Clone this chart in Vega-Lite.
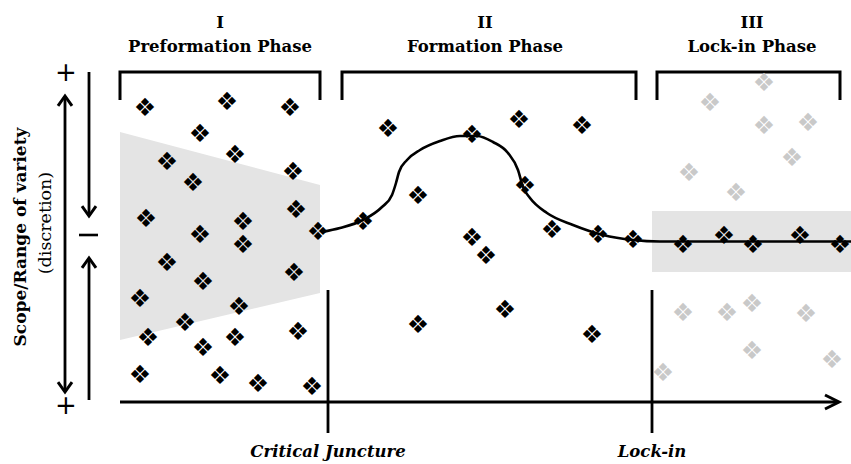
{
  "$schema": "https://vega.github.io/schema/vega-lite/v6.json",
  "width": 851,
  "height": 464,
  "padding": 0,
  "autosize": {"type": "none"},
  "config": {"view": {"stroke": null}},
  "datasets": {
    "shade1": [{"x": 120, "y": 132, "y2": 340}, {"x": 320, "y": 185, "y2": 293}],
    "shade3": [{"x": 652, "x2": 851, "y": 211, "y2": 272}],
    "brackets": [
      {"g": "I", "o": 1, "x": 120, "y": 100}, {"g": "I", "o": 2, "x": 120, "y": 72}, {"g": "I", "o": 3, "x": 320, "y": 72}, {"g": "I", "o": 4, "x": 320, "y": 100},
      {"g": "II", "o": 1, "x": 342, "y": 100}, {"g": "II", "o": 2, "x": 342, "y": 72}, {"g": "II", "o": 3, "x": 636, "y": 72}, {"g": "II", "o": 4, "x": 636, "y": 100},
      {"g": "III", "o": 1, "x": 657, "y": 100}, {"g": "III", "o": 2, "x": 657, "y": 72}, {"g": "III", "o": 3, "x": 840, "y": 72}, {"g": "III", "o": 4, "x": 840, "y": 100}
    ],
    "curve": [
      {"x": 322, "y": 232}, {"x": 340, "y": 228}, {"x": 363, "y": 220}, {"x": 382, "y": 207}, {"x": 392, "y": 195},
      {"x": 396, "y": 183}, {"x": 399, "y": 172}, {"x": 407, "y": 160}, {"x": 420, "y": 150}, {"x": 440, "y": 141},
      {"x": 460, "y": 136}, {"x": 477, "y": 136}, {"x": 493, "y": 142}, {"x": 508, "y": 153}, {"x": 518, "y": 170},
      {"x": 523, "y": 187}, {"x": 530, "y": 198}, {"x": 547, "y": 213}, {"x": 573, "y": 225}, {"x": 603, "y": 235},
      {"x": 633, "y": 240}, {"x": 660, "y": 241.5}, {"x": 851, "y": 241.5}
    ],
    "rules": [
      {"x": 120, "y": 402, "x2": 838, "y2": 402, "w": "thick"},
      {"x": 328, "y": 290, "x2": 328, "y2": 433, "w": "mid"},
      {"x": 652, "y": 290, "x2": 652, "y2": 433, "w": "mid"},
      {"x": 65, "y": 96, "x2": 65, "y2": 392, "w": "mid"},
      {"x": 89, "y": 72, "x2": 89, "y2": 216, "w": "mid"},
      {"x": 89, "y": 258, "x2": 89, "y2": 400, "w": "mid"},
      {"x": 79, "y": 235, "x2": 98, "y2": 235, "w": "thin"}
    ],
    "arrowsRight": [{"x": 839, "y": 402}],
    "arrowsUp": [{"x": 65, "y": 96}, {"x": 89, "y": 258}],
    "arrowsDown": [{"x": 65, "y": 392}, {"x": 89, "y": 216}],
    "active": [
      {"x": 145, "y": 108}, {"x": 227, "y": 102}, {"x": 290, "y": 108}, {"x": 200, "y": 134}, {"x": 235, "y": 155},
      {"x": 167, "y": 162}, {"x": 293, "y": 172}, {"x": 193, "y": 183}, {"x": 146, "y": 219}, {"x": 200, "y": 235},
      {"x": 243, "y": 222}, {"x": 243, "y": 245}, {"x": 296, "y": 210}, {"x": 318, "y": 232}, {"x": 167, "y": 263},
      {"x": 203, "y": 282}, {"x": 294, "y": 273}, {"x": 140, "y": 299}, {"x": 239, "y": 307}, {"x": 185, "y": 323},
      {"x": 148, "y": 338}, {"x": 235, "y": 338}, {"x": 298, "y": 332}, {"x": 203, "y": 348}, {"x": 140, "y": 375},
      {"x": 220, "y": 376}, {"x": 258, "y": 384}, {"x": 312, "y": 387},
      {"x": 388, "y": 129}, {"x": 472, "y": 135}, {"x": 519, "y": 120}, {"x": 582, "y": 126}, {"x": 418, "y": 196},
      {"x": 525, "y": 186}, {"x": 363, "y": 222}, {"x": 472, "y": 238}, {"x": 486, "y": 256}, {"x": 552, "y": 230},
      {"x": 598, "y": 235}, {"x": 633, "y": 240}, {"x": 418, "y": 325}, {"x": 505, "y": 310}, {"x": 592, "y": 335},
      {"x": 683, "y": 245}, {"x": 724, "y": 236}, {"x": 753, "y": 245}, {"x": 800, "y": 236}, {"x": 840, "y": 245}
    ],
    "faded": [
      {"x": 764, "y": 83}, {"x": 710, "y": 103}, {"x": 764, "y": 126}, {"x": 808, "y": 123}, {"x": 792, "y": 158},
      {"x": 689, "y": 173}, {"x": 736, "y": 193}, {"x": 683, "y": 313}, {"x": 727, "y": 313}, {"x": 752, "y": 304},
      {"x": 806, "y": 314}, {"x": 752, "y": 351}, {"x": 832, "y": 360}, {"x": 663, "y": 373}
    ],
    "headers": [
      {"x": 220, "y": 23, "t": "I"}, {"x": 220, "y": 47, "t": "Preformation Phase"},
      {"x": 485, "y": 23, "t": "II"}, {"x": 485, "y": 47, "t": "Formation Phase"},
      {"x": 752, "y": 23, "t": "III"}, {"x": 752, "y": 47, "t": "Lock-in Phase"}
    ],
    "events": [{"x": 328, "y": 452, "t": "Critical Juncture"}, {"x": 652, "y": 452, "t": "Lock-in"}],
    "signs": [{"x": 66, "y": 73, "t": "+"}, {"x": 66, "y": 406, "t": "+"}],
    "ytitle": [{"x": 21, "y": 237, "t": "Scope/Range of variety"}],
    "ysub": [{"x": 46, "y": 223, "t": "(discretion)"}]
  },
  "encoding": {
    "x": {"field": "x", "type": "quantitative", "scale": {"domain": [0, 851], "nice": false, "zero": false}, "axis": null},
    "y": {"field": "y", "type": "quantitative", "scale": {"domain": [0, 464], "nice": false, "zero": false, "reverse": true}, "axis": null}
  },
  "layer": [
    {"data": {"name": "shade1"}, "mark": {"type": "area", "color": "#e4e4e4", "opacity": 1},
     "encoding": {"y2": {"field": "y2"}}},
    {"data": {"name": "shade3"}, "mark": {"type": "rect", "color": "#e4e4e4"},
     "encoding": {"x2": {"field": "x2"}, "y2": {"field": "y2"}}},
    {"data": {"name": "brackets"}, "mark": {"type": "line", "color": "black", "strokeWidth": 3, "strokeJoin": "miter"},
     "encoding": {"detail": {"field": "g"}, "order": {"field": "o"}}},
    {"data": {"name": "rules"}, "mark": {"type": "rule", "color": "black"},
     "encoding": {"x2": {"field": "x2"}, "y2": {"field": "y2"},
       "strokeWidth": {"field": "w", "type": "nominal", "scale": {"domain": ["thick", "mid", "thin"], "range": [3, 2.6, 2]}, "legend": null}}},
    {"data": {"name": "arrowsRight"}, "mark": {"type": "point", "shape": "M -2 -1 L 0 0 L -2 1", "size": 196, "filled": false, "stroke": "black", "strokeWidth": 3, "opacity": 1}},
    {"data": {"name": "arrowsUp"}, "mark": {"type": "point", "shape": "M -1 1.4 L 0 0 L 1 1.4", "size": 196, "filled": false, "stroke": "black", "strokeWidth": 3, "opacity": 1}},
    {"data": {"name": "arrowsDown"}, "mark": {"type": "point", "shape": "M -1 -1.4 L 0 0 L 1 -1.4", "size": 196, "filled": false, "stroke": "black", "strokeWidth": 3, "opacity": 1}},
    {"data": {"name": "faded"}, "mark": {"type": "text", "text": "❖", "font": "DejaVu Sans", "fontSize": 25, "color": "#c9c9c9", "baseline": "middle", "align": "center"}},
    {"data": {"name": "curve"}, "mark": {"type": "line", "color": "black", "strokeWidth": 2.6, "interpolate": "monotone"}},
    {"data": {"name": "active"}, "mark": {"type": "text", "text": "❖", "font": "DejaVu Sans", "fontSize": 25, "color": "black", "baseline": "middle", "align": "center"}},
    {"data": {"name": "headers"}, "mark": {"type": "text", "font": "DejaVu Serif", "fontWeight": "bold", "fontSize": 16.5, "color": "black", "baseline": "middle", "align": "center"},
     "encoding": {"text": {"field": "t"}}},
    {"data": {"name": "events"}, "mark": {"type": "text", "font": "DejaVu Serif", "fontWeight": "bold", "fontStyle": "italic", "fontSize": 16.5, "color": "black", "baseline": "middle", "align": "center"},
     "encoding": {"text": {"field": "t"}}},
    {"data": {"name": "signs"}, "mark": {"type": "text", "font": "DejaVu Sans", "fontSize": 26, "color": "black", "baseline": "middle", "align": "center"},
     "encoding": {"text": {"field": "t"}}},
    {"data": {"name": "ytitle"}, "mark": {"type": "text", "font": "DejaVu Serif", "fontWeight": "bold", "fontSize": 17, "angle": 270, "color": "black", "baseline": "middle", "align": "center"},
     "encoding": {"text": {"field": "t"}}},
    {"data": {"name": "ysub"}, "mark": {"type": "text", "font": "DejaVu Serif", "fontSize": 17.5, "angle": 270, "color": "black", "baseline": "middle", "align": "center"},
     "encoding": {"text": {"field": "t"}}}
  ]
}
